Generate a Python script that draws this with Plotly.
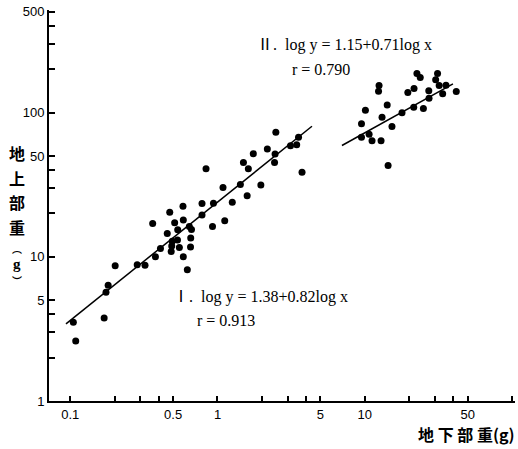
import plotly.graph_objects as go

# ---- data ----
x_I = [0.105, 0.109, 0.170, 0.175, 0.181, 0.202, 0.285, 0.322, 0.379, 0.410,
       0.363, 0.474, 0.583, 0.512, 0.586, 0.456, 0.537, 0.644, 0.666, 0.493,
       0.535, 0.489, 0.485, 0.551, 0.658, 0.656, 0.586, 0.624, 0.785, 0.939,
       0.785, 0.925, 1.12, 1.09, 1.26, 1.43, 0.836, 1.59, 1.97, 1.62,
       1.50, 1.75, 2.18, 2.46, 2.44, 2.49, 3.13, 3.45, 3.55, 3.75]
y_I = [3.52, 2.61, 3.77, 5.67, 6.36, 8.67, 8.81, 8.74, 10.0, 11.4,
       17.0, 20.4, 22.4, 17.2, 18.0, 14.5, 15.4, 16.2, 15.5, 12.8,
       13.1, 11.9, 10.9, 11.6, 13.5, 11.7, 10.0, 8.13, 23.4, 23.5,
       19.5, 16.2, 17.8, 30.2, 23.9, 31.7, 40.8, 26.5, 31.5, 40.8,
       45.1, 51.9, 56.0, 51.7, 45.1, 73.1, 58.9, 59.9, 67.5, 38.6]

x_II = [9.50, 10.1, 12.5, 12.4, 9.50, 10.7, 11.2, 12.9, 13.1, 14.2,
        15.3, 14.4, 17.9, 19.6, 21.6, 22.6, 23.8, 21.5, 25.0, 27.2,
        27.3, 31.2, 30.3, 32.0, 35.6, 33.8, 41.8]
y_II = [83.6, 104, 154, 141, 67.5, 70.8, 63.8, 63.8, 93.1, 113,
        80.0, 43.0, 99.7, 138, 147, 187, 175, 109, 107, 142,
        126, 187, 169, 154, 155, 135, 140]

# regression lines as drawn (end points)
fit_I_x = [0.0936, 4.38]
fit_I_y = [3.43, 80.5]
fit_II_x = [7.0, 39.7]
fit_II_y = [59.2, 158.5]

x_tickvals = [0.1, 0.2, 0.3, 0.4, 0.5, 1, 2, 3, 4, 5, 10, 20, 30, 40, 50, 100]
x_ticktext = ["0.1", "", "", "", "0.5", "1", "", "", "", "5", "10", "", "", "", "50", ""]
y_tickvals = [1, 2, 3, 4, 5, 10, 20, 30, 40, 50, 100, 200, 300, 400, 500]
y_ticktext = ["1", "", "", "", "5", "10", "", "", "", "50", "100", "", "", "", "500"]

eq_II = "Ⅱ.  log y = 1.15+0.71log x"
r_II = "r = 0.790"
eq_I = "Ⅰ.  log y = 1.38+0.82log x"
r_I = "r = 0.913"
y_title_chars = ["地", "上", "部", "重"]
y_title_unit = ["︵", "g", "︶"]
x_title = "地 下 部 重(g)"

fig = go.Figure()
for fx, fy in [(fit_I_x, fit_I_y), (fit_II_x, fit_II_y)]:
    fig.add_trace(go.Scatter(x=fx, y=fy, mode="lines",
                             line=dict(color="black", width=1.5), showlegend=False))
for xs, ys in [(x_I, y_I), (x_II, y_II)]:
    fig.add_trace(go.Scatter(x=xs, y=ys, mode="markers",
                             marker=dict(color="black", size=7), showlegend=False))

tickfont = dict(family="Liberation Sans Narrow, Liberation Sans, Arial", size=13, color="black")
fig.update_xaxes(type="log", range=[-1.144, 2.020], tickvals=x_tickvals, ticktext=x_ticktext,
                 ticks="inside", ticklen=5, tickwidth=1.5, tickcolor="black",
                 showline=True, linecolor="black", linewidth=2, showgrid=False,
                 zeroline=False, tickfont=tickfont)
fig.update_yaxes(type="log", range=[0, 2.712], tickvals=y_tickvals, ticktext=y_ticktext,
                 ticks="inside", ticklen=6, tickwidth=1.5, tickcolor="black",
                 showline=True, linecolor="black", linewidth=2, showgrid=False,
                 zeroline=False, tickfont=tickfont)

eqfont = dict(family="Liberation Serif, Noto Sans CJK JP", size=16, color="black")
annos = [
    dict(text=eq_II, x=0.443, y=0.910),
    dict(text=r_II, x=0.517, y=0.849),
    dict(text=eq_I, x=0.262, y=0.266),
    dict(text=r_I, x=0.313, y=0.205),
]
for a in annos:
    fig.add_annotation(xref="paper", yref="paper", xanchor="left", yanchor="middle",
                       showarrow=False, font=eqfont, **a)

cjk = dict(family="Noto Sans CJK JP", size=16, color="black", weight="bold")
y_char_pos = [0.634, 0.570, 0.510, 0.446]
for ch, yp in zip(y_title_chars, y_char_pos):
    fig.add_annotation(xref="paper", yref="paper", x=-0.0687, y=yp, text=ch,
                       xanchor="center", yanchor="middle", showarrow=False, font=cjk)
unit_pos = [0.391, 0.350, 0.309]
unit_fonts = [dict(family="Noto Sans CJK JP", size=10, color="black", weight="bold"),
              dict(family="Liberation Serif", size=15, color="black", weight="bold"),
              dict(family="Noto Sans CJK JP", size=10, color="black", weight="bold")]
for ch, yp, f in zip(y_title_unit, unit_pos, unit_fonts):
    fig.add_annotation(xref="paper", yref="paper", x=-0.0687, y=yp, text=ch,
                       xanchor="center", yanchor="middle", showarrow=False, font=f)
fig.add_annotation(xref="paper", yref="paper", x=1.004, y=-0.084, text=x_title,
                   xanchor="right", yanchor="middle", showarrow=False, font=cjk)

fig.update_layout(width=518, height=449, margin=dict(l=49, r=3, t=10, b=48),
                  paper_bgcolor="white", plot_bgcolor="white", showlegend=False)
fig.write_html("out.html")
